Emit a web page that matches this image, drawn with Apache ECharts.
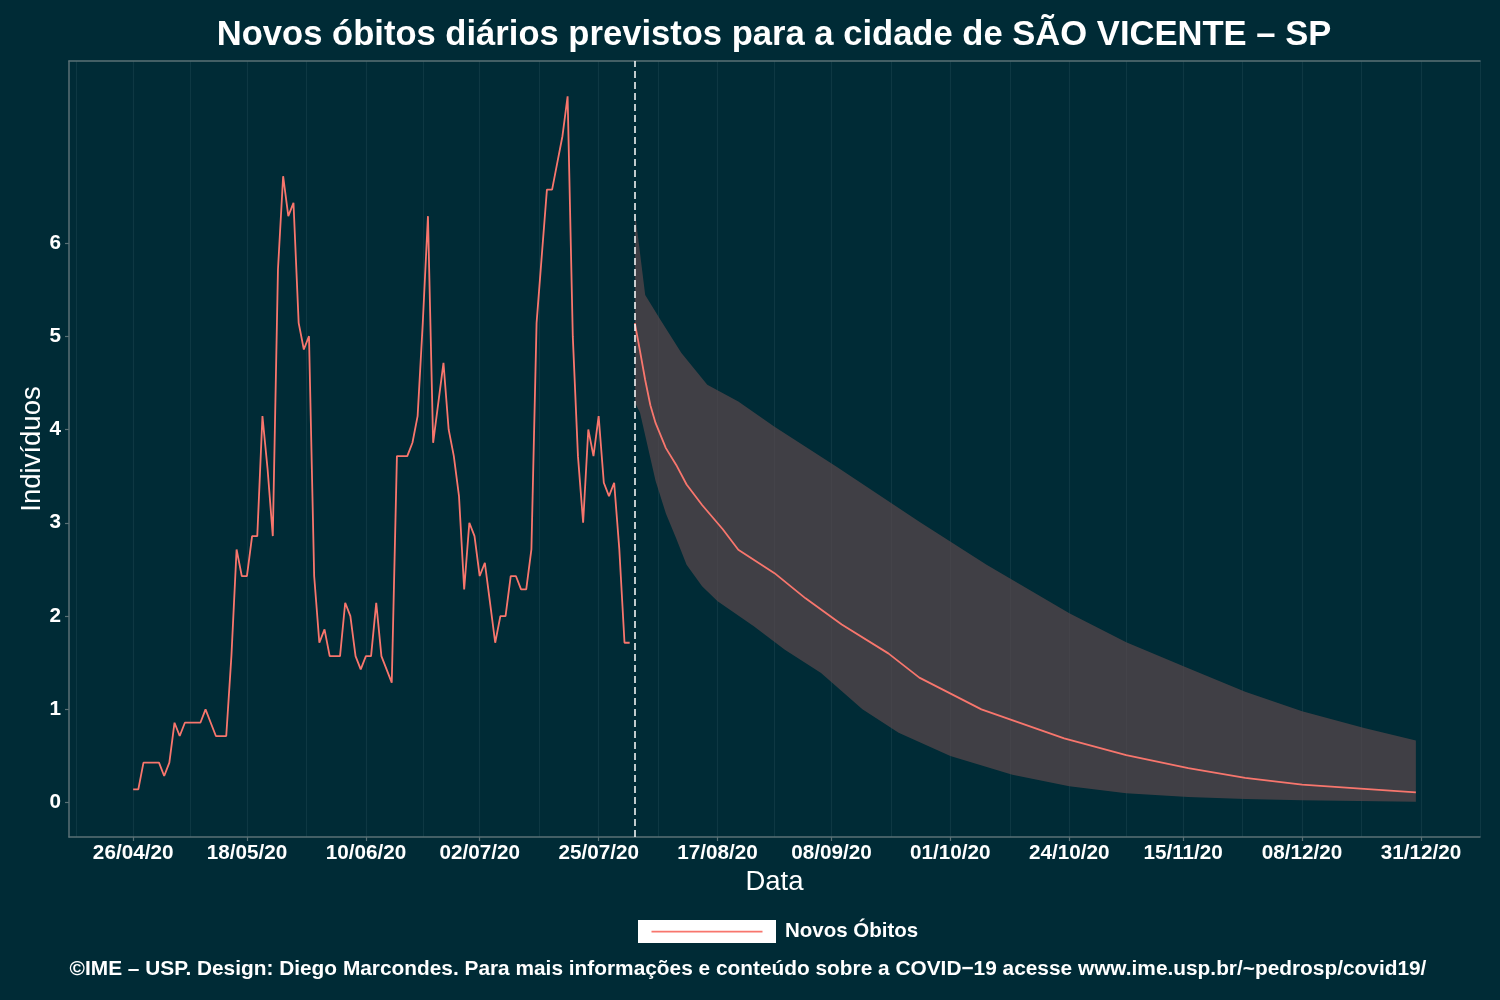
<!DOCTYPE html>
<html><head><meta charset="utf-8">
<script src="https://cdn.jsdelivr.net/npm/echarts@6/dist/echarts.min.js"></script>
<style>html,body{margin:0;padding:0;background:#002b36}#chart{width:1500px;height:1000px}</style>
</head><body><div id="chart"></div>
<script>
// ---------- texts ----------
const titleText = 'Novos óbitos diários previstos para a cidade de SÃO VICENTE – SP';
const captionText = '©IME – USP. Design: Diego Marcondes. Para mais informações e conteúdo sobre a COVID−19 acesse www.ime.usp.br/~pedrosp/covid19/';
const seriesName = 'Novos Óbitos';
const xAxisTitle = 'Data';
const yAxisTitle = 'Indivíduos';

// ---------- observed daily deaths (7-day mean), one value per day from obsStart ----------
const obsStart = '2020-04-26';
const obsValues = [
  0.143,0.143,0.429,0.429,0.429,0.429,0.286,0.429,0.857,0.714,
  0.857,0.857,0.857,0.857,1.000,0.857,0.714,0.714,0.714,1.571,
  2.714,2.429,2.429,2.857,2.857,4.143,3.571,2.857,5.714,6.714,
  6.286,6.429,5.143,4.857,5.000,2.429,1.714,1.857,1.571,1.571,
  1.571,2.143,2.000,1.571,1.429,1.571,1.571,2.143,1.571,1.429,
  1.286,3.714,3.714,3.714,3.857,4.143,5.143,6.286,3.857,4.286,
  4.714,4.000,3.714,3.286,2.286,3.000,2.857,2.429,2.571,2.143,
  1.714,2.000,2.000,2.429,2.429,2.286,2.286,2.714,5.143,5.857,
  6.571,6.571,6.857,7.143,7.571,5.000,3.714,3.000,4.000,3.714,
  4.143,3.429,3.286,3.429,2.714,1.714,1.714
];

// ---------- forecast ----------
const forecastStart = '2020-08-01';
const predDates = ['2020-08-01','2020-08-02','2020-08-03','2020-08-04','2020-08-05','2020-08-07','2020-08-09','2020-08-11','2020-08-14','2020-08-18','2020-08-21','2020-08-28','2020-09-03','2020-09-10','2020-09-19','2020-09-25','2020-10-07','2020-10-23','2020-11-04','2020-11-16','2020-11-27','2020-12-08','2020-12-20','2020-12-30'];
const predValues = [5.14,4.84,4.53,4.26,4.07,3.80,3.62,3.41,3.19,2.93,2.71,2.46,2.19,1.91,1.60,1.34,1.00,0.69,0.51,0.37,0.265,0.193,0.147,0.11];

const upperDates = ['2020-08-01','2020-08-03','2020-08-06','2020-08-10','2020-08-15','2020-08-21','2020-08-28','2020-09-09','2020-09-25','2020-10-08','2020-10-24','2020-11-04','2020-11-16','2020-11-27','2020-12-08','2020-12-20','2020-12-30'];
const upperValues = [6.34,5.44,5.17,4.82,4.48,4.30,4.03,3.60,3.01,2.55,2.03,1.72,1.44,1.19,0.98,0.80,0.667];

const lowerDates = ['2020-08-01','2020-08-02','2020-08-05','2020-08-07','2020-08-09','2020-08-11','2020-08-14','2020-08-17','2020-08-24','2020-08-30','2020-09-06','2020-09-14','2020-09-21','2020-10-01','2020-10-13','2020-10-24','2020-11-04','2020-11-16','2020-11-27','2020-12-08','2020-12-30'];
const lowerValues = [4.29,4.18,3.45,3.10,2.83,2.55,2.32,2.16,1.89,1.64,1.39,1.00,0.75,0.50,0.30,0.175,0.10,0.06,0.04,0.025,0.01];

// ---------- ticks ----------
const xTickDates = ['2020-04-26','2020-05-18','2020-06-10','2020-07-02','2020-07-25','2020-08-17','2020-09-08','2020-10-01','2020-10-24','2020-11-15','2020-12-08','2020-12-31'];
const yTicks = [0,1,2,3,4,5,6];

// ---------- helpers ----------
const DAY = 86400000;
function toTime(s){ const p = s.split('-').map(Number); return Date.UTC(p[0], p[1]-1, p[2]); }
function fmt(v){ const d = new Date(v); const z = n => (n<10?'0':'')+n; return z(d.getUTCDate())+'/'+z(d.getUTCMonth()+1)+'/'+z(d.getUTCFullYear()%100); }

const t0 = toTime(obsStart);
const obsData = obsValues.map((v,i) => [t0 + i*DAY, v]);
const predData = predDates.map((d,i) => [toTime(d), predValues[i]]);
const upperData = upperDates.map((d,i) => [toTime(d), upperValues[i]]);
const lowerData = lowerDates.map((d,i) => [toTime(d), lowerValues[i]]);

// ggplot-like 5% expansion
const allPts = obsData.concat(predData, upperData, lowerData);
const allT = allPts.map(p => p[0]);
const allV = allPts.map(p => p[1]);
const tMin = Math.min(...allT), tMax = Math.max(...allT);
const vMin = Math.min(...allV), vMax = Math.max(...allV);
const xMin = tMin - 0.05*(tMax-tMin), xMax = tMax + 0.05*(tMax-tMin);
const yMin = vMin - 0.05*(vMax-vMin), yMax = vMax + 0.05*(vMax-vMin);

const majorT = xTickDates.map(toTime);
const minorT = [];
minorT.push(majorT[0] - (majorT[1]-majorT[0])/2);
for (let i=0;i<majorT.length-1;i++) minorT.push((majorT[i]+majorT[i+1])/2);
minorT.push(Math.min(xMax, majorT[majorT.length-1] + (majorT[majorT.length-1]-majorT[majorT.length-2])/2));

const FONT = 'Liberation Sans, Arial, Helvetica, sans-serif';
const LINE = '#F8766D';
const AXIS = '#5a7176';
const GRID = '#0e3843';
const BAND = 'rgba(91,72,75,0.7)';

const keySvg = '<svg xmlns="http://www.w3.org/2000/svg" width="138" height="23"><rect x="0" y="0" width="138" height="23" fill="#ffffff"/><line x1="13.5" y1="11.7" x2="124.5" y2="11.7" stroke="' + LINE + '" stroke-width="1.8"/></svg>';

const chart = echarts.init(document.getElementById('chart'), null, {renderer:'canvas'});
chart.setOption({
  animation: false,
  backgroundColor: '#002b36',
  textStyle: {fontFamily: FONT},
  title: [
    {text: titleText, left: 769, top: 13, textAlign: 'center',
     textStyle: {color:'#ffffff', fontSize: 34.6, fontWeight:'bold', fontFamily: FONT}},
    {text: captionText, left: 743, top: 954, textAlign: 'center',
     textStyle: {color:'#ffffff', fontSize: 20.85, fontWeight:'bold', fontFamily: FONT}}
  ],
  legend: {
    data: [seriesName], left: 638, top: 920, padding: 0, itemWidth: 138, itemHeight: 23,
    icon: 'image://data:image/svg+xml;charset=utf-8,' + encodeURIComponent(keySvg),
    textStyle: {color:'#ffffff', fontSize: 20.5, fontWeight:'bold', fontFamily: FONT, padding:[0,0,0,4]},
    selectedMode: false
  },
  grid: {left: 69, right: 20, top: 61, bottom: 163, containLabel: false},
  xAxis: [
    {type:'value', min:xMin, max:xMax, position:'bottom',
     name: xAxisTitle, nameLocation:'middle', nameGap: 31, nameMoveOverlap: false,
     nameTextStyle: {color:'#ffffff', fontSize: 27.5, fontFamily: FONT},
     axisLine: {show:true, onZero:false, lineStyle:{color:AXIS, width:1.5}},
     axisTick: {show:true, length:4, customValues: majorT, lineStyle:{color:AXIS, width:1.2}},
     axisLabel: {show:true, customValues: majorT, formatter: v => fmt(v), margin: 6,
       color:'#ffffff', fontSize: 20.7, fontWeight:'bold', fontFamily: FONT},
     splitLine: {show:true, lineStyle:{color:GRID, width:1.2}}
    },
    {type:'value', min:xMin, max:xMax, position:'top',
     axisLine: {show:true, onZero:false, lineStyle:{color:AXIS, width:1.5}},
     axisTick: {show:false, customValues: minorT},
     axisLabel: {show:false},
     splitLine: {show:true, lineStyle:{color:GRID, width:1}}
    }
  ],
  yAxis: {
    type:'value', min:yMin, max:yMax,
    name: yAxisTitle, nameLocation:'middle', nameGap: 23, nameRotate: 90, nameMoveOverlap: false,
    nameTextStyle: {color:'#ffffff', fontSize: 27.5, fontFamily: FONT},
    axisLine: {show:true, onZero:false, lineStyle:{color:AXIS, width:1.5}},
    axisTick: {show:true, length:4, customValues: yTicks, lineStyle:{color:AXIS, width:1.2}},
    axisLabel: {show:true, customValues: yTicks, margin: 8,
      color:'#ffffff', fontSize: 20.7, fontWeight:'bold', fontFamily: FONT},
    splitLine: {show:false}
  },
  series: [
    {name:'Intervalo', type:'custom', xAxisIndex:0, yAxisIndex:0, silent:true, clip:true,
     data: upperData.concat(lowerData), encode:{x:0, y:1}, z:1,
     renderItem: function(params, api){
       if (params.dataIndex !== 0) return null;
       const pts = [];
       upperData.forEach(p => pts.push(api.coord(p)));
       for (let i=lowerData.length-1;i>=0;i--) pts.push(api.coord(lowerData[i]));
       return {type:'polygon', shape:{points:pts}, style:{fill:BAND}};
     }
    },
    {name: seriesName, type:'line', data: obsData, showSymbol:false, z:3,
     lineStyle:{color:LINE, width:1.8}, itemStyle:{color:LINE}},
    {name: seriesName, type:'line', data: predData, showSymbol:false, z:3,
     lineStyle:{color:LINE, width:1.8}, itemStyle:{color:LINE},
     markLine: {silent:true, symbol:['none','none'], label:{show:false},
       lineStyle:{color:'#ffffff', type:[7,4], width:1.5},
       data:[{xAxis: toTime(forecastStart)}]}
    }
  ]
});
</script></body></html>
